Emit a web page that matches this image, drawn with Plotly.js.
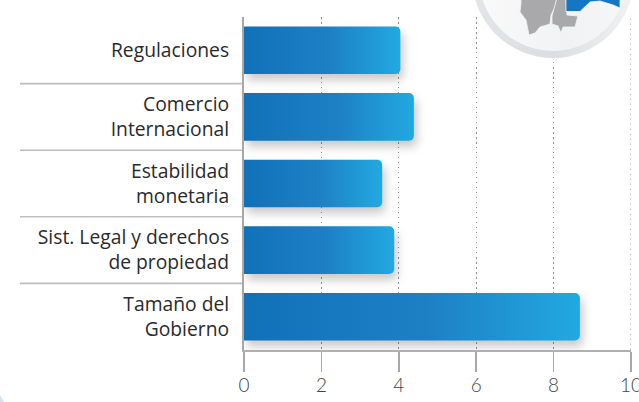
<!DOCTYPE html>
<html>
<head>
<meta charset="utf-8">
<script src="https://cdn.plot.ly/plotly-3.0.1.min.js"></script>
<style>html,body{margin:0;padding:0;background:#fff;overflow:hidden}</style>
</head>
<body>
<div id="chart" style="width:639px;height:402px"></div>
<script>
const categories = ["Regulaciones","Comercio<br>Internacional","Estabilidad<br>monetaria","Sist. Legal y derechos<br>de propiedad","Tamaño del<br>Gobierno"];
const values = [4.04,4.39,3.57,3.88,8.68];
const xTicks = [0,2,4,6,8,10];

const W=639,H=402,L=244,R=8,T=17,B=52;
const px=x=>(x-L)/(W-L-R), py=y=>(H-B-y)/(H-T-B);
const poly=pts=>'M'+pts.map(p=>px(p[0]).toFixed(4)+','+py(p[1]).toFixed(4)).join('L')+'Z';
const circle=(cx,cy,r,fill)=>({type:'circle',xref:'paper',yref:'paper',x0:px(cx-r),x1:px(cx+r),y0:py(cy+r),y1:py(cy-r),fillcolor:fill,line:{width:0},layer:'above'});
const region=(pts,fill)=>({type:'path',xref:'paper',yref:'paper',path:poly(pts),fillcolor:fill,line:{color:'#f4f4f5',width:0.8},layer:'above'});

const shapes=[];
[0.5,1.5,2.5,3.5].forEach(v=>shapes.push({type:'line',xref:'paper',yref:'y',x0:px(20),x1:0,y0:v,y1:v,line:{color:'#bdbdbf',width:1.6},layer:'below'}));
shapes.push({type:'line',xref:'x',yref:'paper',x0:10,x1:10,y0:0,y1:1,line:{color:'#8f8f8f',width:1,dash:'1.5px,3.5px'},layer:'below'});
shapes.push(circle(553,-23,81,'#e2e3e5'));
shapes.push(circle(553,-23,74,'#f4f5f6'));
shapes.push(region([[521,-2],[521,3],[520,12],[526,20],[529,35],[535,33],[540,27],[550,24],[551,15],[555,7],[557,-2]],'#a9a9ab'));
shapes.push(region([[552,16],[552,24],[558,26],[561,33],[563,27],[575,27],[578,16],[567,15],[566,-2],[557,-2]],'#a9a9ab'));
shapes.push(region([[566,-2],[566,11.5],[580,11.5],[590,2],[600,1],[613,5],[620,8],[620,-2]],'#1577c4'));
shapes.push({type:'path',xref:'paper',yref:'paper',path:poly([[0,395],[4,402],[0,402]]),fillcolor:'#d3e3ee',line:{width:0},layer:'above'});

const trace={type:'bar',orientation:'h',y:categories,x:values,marker:{color:'#1a8bcf',line:{width:0}},hoverinfo:'skip',cliponaxis:false};
const layout={
  width:W,height:H,margin:{l:L,r:R,t:T,b:B,pad:0},
  paper_bgcolor:'#fff',plot_bgcolor:'#fff',showlegend:false,
  bargap:0.286,barcornerradius:5,shapes,
  xaxis:{range:[0,10],tickvals:xTicks,ticks:'outside',ticklen:20,tickwidth:1.5,tickcolor:'#a8a8aa',
    showline:true,linecolor:'#b0b0b2',linewidth:2,showgrid:true,gridcolor:'#8f8f8f',gridwidth:1,griddash:'1.5px,3.5px',zeroline:false,
    tickfont:{family:'Lato, "Open Sans", sans-serif',size:19,color:'#444',weight:300},ticklabelstandoff:-3,ticklabeloverflow:'allow'},
  yaxis:{autorange:'reversed',type:'category',ticks:'',showline:true,linecolor:'#a8a8aa',linewidth:2,showgrid:false,zeroline:false,
    tickfont:{family:'"Open Sans", sans-serif',size:19.3,color:'#2a2a2c'},ticklabelstandoff:9}
};
Plotly.newPlot('chart',[trace],layout,{displayModeBar:false,staticPlot:true}).then(()=>{
  const svg=document.querySelector('#chart .main-svg');
  const ns='http://www.w3.org/2000/svg';
  const defs=svg.querySelector('defs')||svg.insertBefore(document.createElementNS(ns,'defs'),svg.firstChild);
  const addGrad=(id,stops)=>{
    const g=document.createElementNS(ns,'linearGradient');
    g.id=id;g.setAttribute('x1','0');g.setAttribute('x2','1');g.setAttribute('y1','0');g.setAttribute('y2','0');
    stops.forEach(s=>{
      const e=document.createElementNS(ns,'stop');e.setAttribute('offset',s[0]);e.setAttribute('stop-color',s[1]);g.appendChild(e);
    });
    defs.appendChild(g);
  };
  addGrad('barGrad',[['0','#1171b8'],['0.55','#1d80c5'],['1','#22a9e1']]);
  addGrad('ringGrad',[['0','#e4e5e7'],['0.5','#dcdde0'],['1','#f1f2f3']]);
  addGrad('discGrad',[['0','#fafafa'],['0.6','#f1f2f4'],['1','#f7f7f8']]);
  document.querySelectorAll('#chart .bars .point path').forEach(p=>{
    p.style.fill='url(#barGrad)';
    p.style.filter='drop-shadow(3px 6px 5px rgba(60,60,70,0.28))';
  });
  const above=document.querySelectorAll('#chart .layer-above .shapelayer path');
  if(above[0]) above[0].style.fill='url(#ringGrad)';
  if(above[1]) above[1].style.fill='url(#discGrad)';
});
</script>
</body>
</html>
